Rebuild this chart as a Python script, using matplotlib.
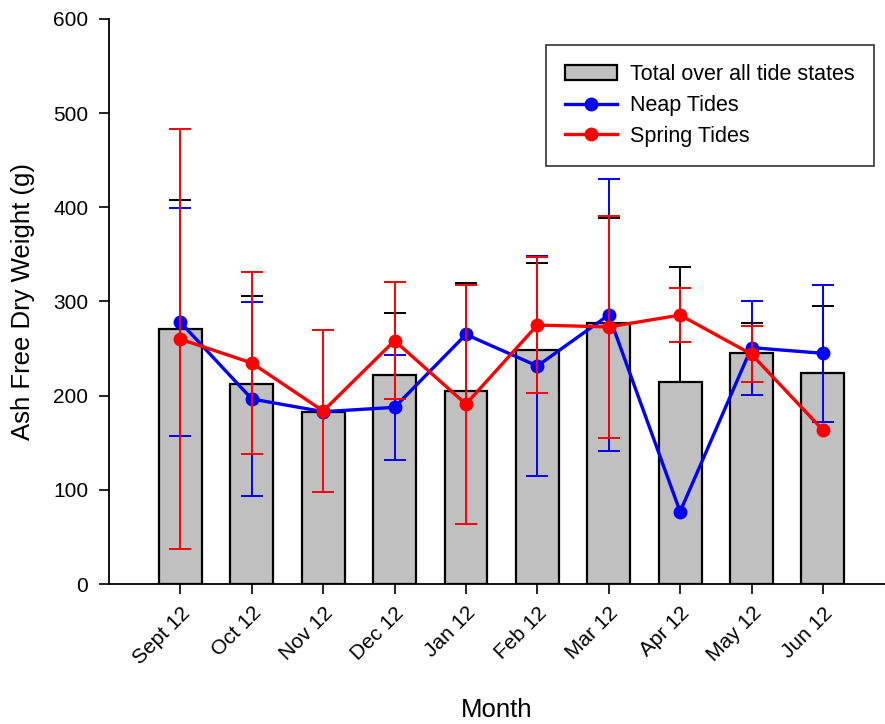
import numpy as np
import matplotlib
matplotlib.use("Agg")
import matplotlib.pyplot as plt

plt.rcParams["font.family"] = ["Liberation Sans", "DejaVu Sans"]

# data
months = ["Sept 12", "Oct 12", "Nov 12", "Dec 12", "Jan 12",
          "Feb 12", "Mar 12", "Apr 12", "May 12", "Jun 12"]
total = [271, 212, 183, 222, 205, 248, 277.5, 215, 245, 224]
total_err = [137, 94, np.nan, 65.5, 115, 92.5, 111, 122, 32.5, 71.5]
neap = [278, 196.5, 183, 187.6, 265, 231.5, 285.7, 76.8, 251, 245]
neap_err = [121, 103, np.nan, 56, np.nan, 117, 144, np.nan, 50, 73]
spring = [260, 234.7, 183.7, 258.4, 191, 275, 273, 285.6, 244, 163.5]
spring_err = [223, 97, 86, 62, 127, 72, 118, 28.5, 30, np.nan]

x = np.arange(len(months))

fig = plt.figure(figsize=(8.85, 7.24), dpi=100)
ax = fig.add_axes([109 / 885, 140 / 724, 1 - 109 / 885, 565 / 724])

# bars
ax.bar(x, total, width=0.6, color="#c0c0c0", edgecolor="black",
       linewidth=1.6, label="Total over all tide states", zorder=2)

# upper-only error bars for totals
tot = np.array(total)
terr = np.array(total_err)
ok = ~np.isnan(terr)
ax.vlines(x[ok], tot[ok], tot[ok] + terr[ok], color="black", lw=1.4, zorder=3)
ax.plot(x[ok], tot[ok] + terr[ok], ls="none", marker="_", ms=16, mew=1.4,
        color="black", zorder=3)


def series(vals, errs, color, label, z):
    vals = np.array(vals)
    errs = np.array(errs)
    m = ~np.isnan(errs)
    ax.errorbar(x[m], vals[m], yerr=errs[m], fmt="none", ecolor=color,
                elinewidth=1.4, capsize=8, capthick=1.4, zorder=z)
    ax.plot(x, vals, color=color, lw=2.4, marker="o", ms=9, label=label,
            zorder=z + 1)


series(neap, neap_err, "#0000ff", "Neap Tides", 4)
series(spring, spring_err, "#ff0000", "Spring Tides", 6)

ax.set_xlim(-1, 9.87)
ax.set_ylim(0, 600)
ax.set_yticks(np.arange(0, 601, 100))
ax.set_xticks(x)
ax.set_xticklabels(months, rotation=45, ha="right", rotation_mode="anchor")
ax.tick_params(labelsize=15, direction="out", length=7, width=1.2)
ax.tick_params(axis="x", pad=7)
ax.tick_params(axis="y", pad=8)
for s in ["top", "right"]:
    ax.spines[s].set_visible(False)
for s in ["left", "bottom"]:
    ax.spines[s].set_linewidth(1.3)

ax.set_ylabel("Ash Free Dry Weight (g)", fontsize=18.5, labelpad=13)
ax.set_xlabel("Month", fontsize=18.5, labelpad=22)

handles, labels = ax.get_legend_handles_labels()
order = [labels.index("Total over all tide states"),
         labels.index("Neap Tides"), labels.index("Spring Tides")]
leg = ax.legend([handles[i] for i in order], [labels[i] for i in order],
                loc="upper right", bbox_to_anchor=(874 / 885, 1 - 45 / 724),
                bbox_transform=fig.transFigure, fontsize=15.5, frameon=True,
                fancybox=False, borderpad=0.9, labelspacing=0.45,
                handlelength=2.4, handletextpad=0.6, borderaxespad=0)
leg.get_frame().set_edgecolor("black")
leg.get_frame().set_linewidth(1.2)

fig.savefig("out.png", dpi=100)
